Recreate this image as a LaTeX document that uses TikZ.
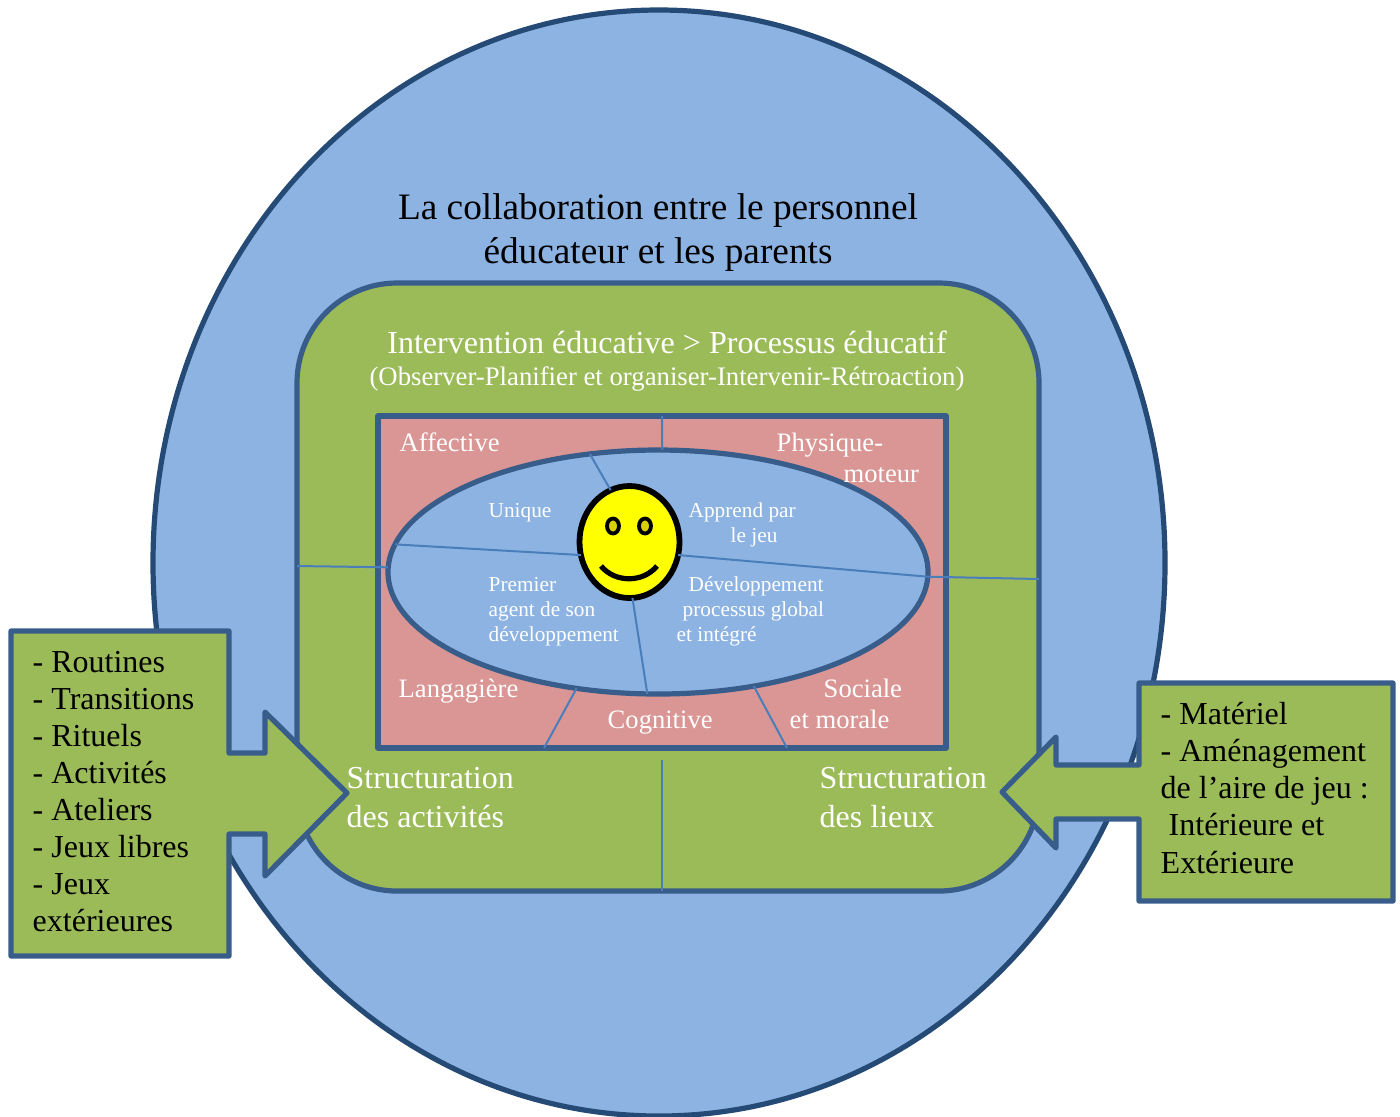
\documentclass[tikz,border=0pt]{standalone}
\usepackage{fontspec}
\setmainfont{Liberation Serif}
\usetikzlibrary{shapes.geometric}
\definecolor{skyfill}{HTML}{8DB3E2}
\definecolor{leaf}{HTML}{9BBB59}
\definecolor{rose}{HTML}{D99694}
\definecolor{edge}{HTML}{385D8A}
\definecolor{outeredge}{HTML}{254A75}
\definecolor{spoke}{HTML}{4A7EBB}
\definecolor{sunface}{HTML}{FFFF00}
\definecolor{eyecore}{HTML}{D8D000}
\tikzset{
  zone/.style={draw=edge,line width=2.6pt,inner sep=0pt,outer sep=0pt,line join=round},
  oval/.style={zone,ellipse},
  spokeline/.style={draw=spoke,line width=1pt},
  callout/.style={draw=edge,fill=leaf,line width=2.6pt,line join=round},
  txt/.style={inner sep=0pt,outer sep=0pt,anchor=base west,align=left,xshift=-0.15pt},
  title/.style={txt,xshift=0.15pt,align=center,anchor=base,font=\fontsize{18.65}{22}\selectfont},
  sub/.style={txt,xshift=0.15pt,align=center,anchor=base},
  pinklab/.style={txt,text=white,font=\fontsize{13.3}{15.5}\selectfont},
  innerlab/.style={txt,text=white,font=\fontsize{10.65}{12.4}\selectfont},
  structlab/.style={txt,text=white,font=\fontsize{16}{19.5}\selectfont},
  listlab/.style={txt,text=black,font=\fontsize{16}{18.45}\selectfont},
  listlabwide/.style={txt,text=black,font=\fontsize{16}{18.6}\selectfont},
}
\begin{document}
\begin{tikzpicture}[x=0.5pt,y=-0.5pt]
\useasboundingbox (0,0) rectangle (1400,1116);
% nested zones
\node[oval,draw=outeredge,fill=skyfill,minimum width=506pt,minimum height=553pt] (outer) at (659,563) {};
\node[zone,fill=leaf,rounded corners=50pt,minimum width=371pt,minimum height=304pt] (frame) at (668,587) {};
\node[zone,fill=rose,minimum width=284pt,minimum height=166pt] (pink) at (662,582) {};
% spokes outside the core
\coordinate (ctop) at (662,416);
\coordinate (cleft) at (297,566);
\coordinate (cright) at (1039,579);
\coordinate (cll) at (544,748);
\coordinate (clr) at (787,748);
\coordinate (cvt) at (662,760);
\coordinate (cvb) at (662,891);
\node[oval,fill=skyfill,minimum width=270pt,minimum height=122pt] (core) at (658,572) {};
\node[oval,draw=black,fill=sunface,line width=2.9pt,minimum width=50pt,minimum height=56pt] (face) at (629.5,542) {};
\draw[spokeline] (ctop) -- (core.88);
\draw[spokeline] (cleft) -- (core.179.4);
\draw[spokeline] (cright) -- (core.-1.9);
\draw[spokeline] (cll) -- (core.-125);
\draw[spokeline] (clr) -- (core.-50.8);
\draw[spokeline] (cvt) -- (cvb);
\draw[spokeline] (core.120.5) -- (face.110);
\draw[spokeline] (core.174.07) -- (face.195.5);
\draw[spokeline] (face.-15.5) -- (core.-1.9);
\draw[spokeline] (face.-87.5) -- (core.-95.2);
% smiley
\node[oval,draw=black,fill=eyecore,line width=1.9pt,minimum width=6pt,minimum height=7.5pt] (eyeL) at (613,526) {};
\node[oval,draw=black,fill=eyecore,line width=1.9pt,minimum width=6pt,minimum height=7.5pt] (eyeR) at (645,526) {};
\draw[black,line width=2.6pt] (601,566) .. controls (615,583) and (643,583) .. (657,566);
% callouts
\draw[callout] (11,631) -- (229,631) -- (229,753) -- (265,753) -- (265,712) -- (347,793) -- (265,876) -- (265,834) -- (229,834) -- (229,956) -- (11,956) -- cycle;
\draw[callout] (1139,683) -- (1393,683) -- (1393,901) -- (1139,901) -- (1139,819) -- (1056,819) -- (1056,848) -- (1002,792) -- (1056,737) -- (1056,765) -- (1139,765) -- cycle;
% texts
\node[title] (t1) at (658,263) {La collaboration entre le personnel\\éducateur et les parents};
\node[sub,text=white,font=\fontsize{16.03}{18}\selectfont] (t2) at (667,353) {Intervention éducative > Processus éducatif};
\node[sub,text=white,font=\fontsize{13.37}{15}\selectfont] (t3) at (667,385) {(Observer-Planifier et organiser-Intervenir-Rétroaction)};
\node[pinklab] (p1) at (400,451) {Affective};
\node[pinklab] (p2) at (777,482) {Physique-\\\hspace*{33.5pt}moteur};
\node[pinklab] (p3) at (399,697) {Langagière};
\node[pinklab] (p4) at (608,728) {Cognitive};
\node[pinklab] (p5) at (790,728) {\hspace*{17pt}Sociale\\et morale};
\node[innerlab] (i1) at (489,517) {Unique};
\node[innerlab] (i2) at (689,542) {Apprend par\\\hspace*{21pt}le jeu};
\node[innerlab] (i3) at (489,641) {Premier\\agent de son\\développement};
\node[innerlab] (i4) at (677,641) {\hspace*{6pt}Développement\\\hspace*{3pt}processus global\\et intégré};
\node[structlab] (s1) at (347,827) {Structuration\\des activités};
\node[structlab] (s2) at (820,827) {Structuration\\des lieux};
\node[listlab] (l1) at (33,931) {- Routines\\- Transitions\\- Rituels\\- Activités\\- Ateliers\\- Jeux libres\\- Jeux\\extérieures};
\node[listlabwide] (l2) at (1161,873) {- Matériel\\- Aménagement\\de l’aire de jeu :\\\hspace*{4pt}Intérieure et\\Extérieure};
\end{tikzpicture}
\end{document}
